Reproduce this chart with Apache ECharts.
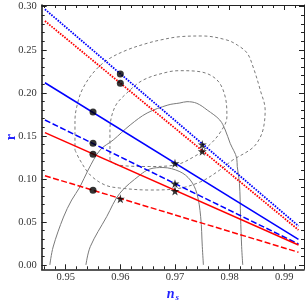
<!DOCTYPE html>
<html><head><meta charset="utf-8">
<script src="https://cdn.jsdelivr.net/npm/echarts@6/dist/echarts.min.js"></script>
<style>html,body{margin:0;padding:0;background:#fff}#c{width:306px;height:302px}</style>
</head><body><div id="c"></div>
<script>
// ---- data ----
const xMajor = [0.95, 0.96, 0.97, 0.98, 0.99];
const yMajor = [0.00, 0.05, 0.10, 0.15, 0.20, 0.25, 0.30];
const nsRange = [0.9462, 0.9926];
const rBlueDotted = [0.297, 0.0453];
const rRedDotted = [0.2834, 0.0407];
const rBlueSolid = [0.2117, 0.0298];
const rBlueDashed = [0.1684, 0.0244];
const rRedSolid = [0.1537, 0.0232];
const rRedDashed = [0.1037, 0.0148];
const circleNs = [0.96, 0.96, 0.955, 0.955, 0.955, 0.955];
const circleR = [0.2218, 0.2112, 0.1777, 0.1413, 0.1286, 0.0868];
const starNs = [0.975, 0.975, 0.97, 0.97, 0.97, 0.96];
const starR = [0.140, 0.132, 0.1181, 0.0945, 0.086, 0.077];
const outerDashed = [[0.9517,0.1336],[0.9526,0.1220],[0.9545,0.1045],[0.9572,0.0929],[0.9599,0.0894],[0.9654,0.0871],[0.9700,0.0883],[0.9746,0.0964],[0.9782,0.1103],[0.9806,0.1220],[0.9837,0.1336],[0.9850,0.1417],[0.9861,0.1568],[0.9865,0.1800],[0.9856,0.2033],[0.9843,0.2300],[0.9832,0.2462],[0.9814,0.2555],[0.9795,0.2613],[0.9751,0.2660],[0.9709,0.2652],[0.9673,0.2613],[0.9649,0.2575],[0.9612,0.2497],[0.9576,0.2381],[0.9550,0.2230],[0.9530,0.2033],[0.9521,0.1858],[0.9517,0.1684],[0.9517,0.1336]];
const innerDashed = [[0.9581,0.1220],[0.9581,0.1568],[0.9590,0.1835],[0.9612,0.1998],[0.9642,0.2149],[0.9687,0.2242],[0.9709,0.2257],[0.9746,0.2245],[0.9777,0.2149],[0.9792,0.1951],[0.9795,0.1719],[0.9782,0.1533],[0.9759,0.1370],[0.9737,0.1266],[0.9700,0.1161],[0.9654,0.1144],[0.9612,0.1150],[0.9590,0.1173],[0.9581,0.1220]];
const outerSolid = [[0.9471,0],[0.9477,0.0209],[0.9496,0.0557],[0.9511,0.0755],[0.9526,0.0906],[0.9541,0.1103],[0.9563,0.1336],[0.9587,0.1452],[0.9618,0.1626],[0.9649,0.1765],[0.9687,0.1858],[0.9709,0.1882],[0.9722,0.1897],[0.9740,0.1878],[0.9759,0.1800],[0.9782,0.1684],[0.9792,0.1568],[0.9801,0.1413],[0.9813,0.1239],[0.9814,0.1142],[0.9818,0.0949],[0.9820,0.0561],[0.9822,0.0213],[0.9824,0]];
const innerSolid = [[0.9537,0],[0.9545,0.0213],[0.9575,0.0561],[0.9599,0.0833],[0.9636,0.1045],[0.9654,0.1115],[0.9678,0.1132],[0.9709,0.1084],[0.9728,0.0987],[0.9740,0.0833],[0.9747,0.0561],[0.9750,0.0213],[0.9752,0]];

// ---- chart ----
const X_MIN = 0.94561, X_MAX = 0.99361, Y_MIN = -0.005, Y_MAX = 0.302;
const xMinor = [], yMinor = [];
for (let i = 473; i <= 496; i++) { const v = i * 0.002; if (v > X_MIN && v < X_MAX) xMinor.push(+v.toFixed(3)); }
for (let i = 0; i <= 30; i++) yMinor.push(+(i * 0.01).toFixed(2));
const FONT = 'Liberation Serif';
const BLUE = '#0000ff', RED = '#ff0000', GRAY = '#7a7a7a';
function xAx(pos, vals, len, showLine, showLabel, w) {
  return { type: 'value', position: pos, min: X_MIN, max: X_MAX, gridIndex: 0,
    axisLine: { show: showLine, onZero: false, lineStyle: { color: '#222', width: w } },
    axisTick: { show: true, inside: true, length: len, customValues: vals, lineStyle: { color: '#222', width: 1 } },
    axisLabel: { show: showLabel, customValues: vals, margin: 2.5, color: '#333', fontFamily: FONT, fontSize: 10.5, formatter: v => v.toFixed(2) },
    splitLine: { show: false } };
}
function yAx(pos, vals, len, showLine, showLabel, w) {
  return { type: 'value', position: pos, min: Y_MIN, max: Y_MAX, gridIndex: 0,
    axisLine: { show: showLine, onZero: false, lineStyle: { color: '#222', width: w } },
    axisTick: { show: true, inside: true, length: len, customValues: vals, lineStyle: { color: '#222', width: 1 } },
    axisLabel: { show: showLabel, customValues: vals, margin: 5, color: '#333', fontFamily: FONT, fontSize: 10.5, formatter: v => v.toFixed(2) },
    splitLine: { show: false } };
}
const xAxes = [xAx('bottom', xMajor, 5, true, true, 1.6), xAx('bottom', xMinor, 3, false, false, 1), xAx('top', xMajor, 5, true, false, 1), xAx('top', xMinor, 3, false, false, 1)];
xAxes[0].name = '{n|n}{s|s}';
xAxes[0].nameLocation = 'middle';
xAxes[0].nameGap = 17;
xAxes[0].nameMoveOverlap = false;
xAxes[0].nameTextStyle = { rich: {
  n: { fontFamily: FONT, fontStyle: 'italic', fontWeight: 'bold', fontSize: 14, color: '#2222ff' },
  s: { fontFamily: FONT, fontStyle: 'italic', fontWeight: 'bold', fontSize: 9, color: '#2222ff', padding: [7, 0, 0, 1] } } };
const yAxes = [yAx('left', yMajor, 5, true, true, 1.6), yAx('left', yMinor, 3, false, false, 1), yAx('right', yMajor, 5, true, false, 1), yAx('right', yMinor, 3, false, false, 1)];
yAxes[0].name = 'r';
yAxes[0].nameLocation = 'middle';
yAxes[0].nameRotate = 90;
yAxes[0].nameGap = 23;
yAxes[0].nameMoveOverlap = false;
yAxes[0].nameTextStyle = { fontFamily: FONT, fontWeight: 'bold', fontSize: 14, color: '#2222ff' };

function seg(r) { return [[nsRange[0], r[0]], [nsRange[1], r[1]]]; }
function ln(data, color, type, width, z) {
  return { type: 'line', data: data, showSymbol: false, symbol: 'none', silent: true, z: z || 3,
    lineStyle: { color: color, type: type, width: width, cap: 'butt' }, animation: false };
}
function contour(data, dashed) {
  return { type: 'line', data: data, showSymbol: false, symbol: 'none', smooth: 0.35, silent: true, z: 1,
    lineStyle: { color: GRAY, type: dashed ? [3, 2.5] : 'solid', width: 1 }, animation: false };
}
const STAR = 'path://M50,0 L61,35 L98,35 L68,57 L79,91 L50,70 L21,91 L32,57 L2,35 L39,35 Z';
const series = [
  contour(outerDashed, true), contour(innerDashed, true), contour(outerSolid, false), contour(innerSolid, false),
  ln(seg(rBlueDotted), BLUE, [1.6, 1.2], 1.8),
  ln(seg(rRedDotted), RED, [1.6, 1.2], 1.8),
  ln(seg(rBlueSolid), BLUE, 'solid', 1.5),
  ln(seg(rBlueDashed), BLUE, [6, 2.5], 1.5),
  ln(seg(rRedSolid), RED, 'solid', 1.5),
  ln(seg(rRedDashed), RED, [6, 2.5], 1.5),
  { type: 'scatter', data: circleNs.map((x, i) => [x, circleR[i]]), symbol: 'circle', symbolSize: 7, itemStyle: { color: '#000' }, z: 5, silent: true, animation: false },
  { type: 'scatter', data: starNs.map((x, i) => [x, starR[i]]), symbol: STAR, symbolSize: 9, itemStyle: { color: '#000' }, z: 5, silent: true, animation: false }
];
const chart = echarts.init(document.getElementById('c'), null, { renderer: 'canvas' });
chart.setOption({
  animation: false,
  grid: { left: 41.7, top: 5, right: 2, bottom: 32.7, containLabel: false, outerBoundsMode: 'none' },
  xAxis: xAxes, yAxis: yAxes, series: series
});
</script></body></html>
